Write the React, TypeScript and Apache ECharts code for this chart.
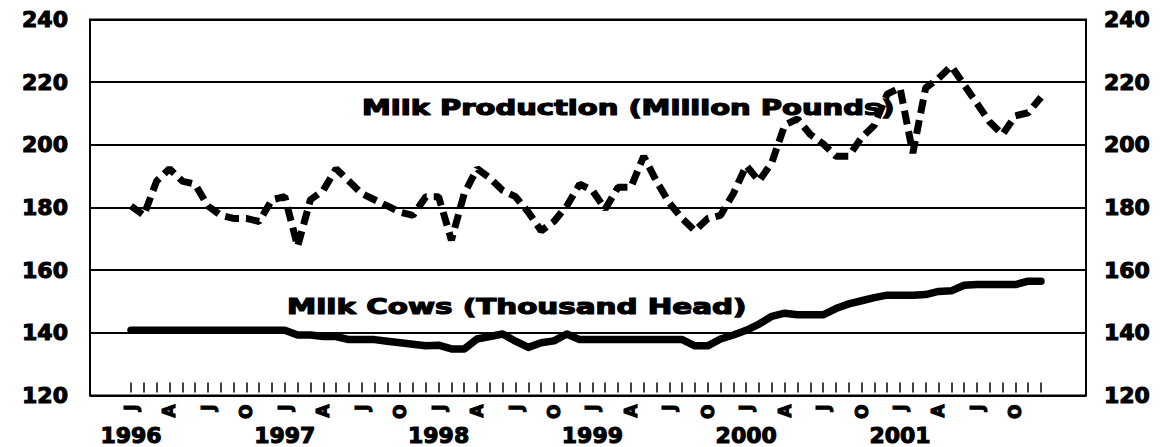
import React, { useEffect, useRef } from "react";
import * as echarts from "echarts";

const years = ["1996", "1997", "1998", "1999", "2000", "2001"];
const monthLetters = ["J", "F", "M", "A", "M", "J", "J", "A", "S", "O", "N", "D"];
const categories = years.flatMap((y) => monthLetters.map((_, k) => `${y}-${k + 1}`));

const production1996 = [180, 177, 188, 192, 188, 187, 180, 177, 176, 176, 175, 182];
const production1997 = [183, 167, 182, 185, 192, 188, 184, 182, 180, 178, 177, 183];
const production1998 = [183, 169, 184, 192, 189, 185, 183, 178, 172, 175, 180, 187];
const production1999 = [185, 179, 186, 186, 196, 188, 181, 176, 172, 176, 177, 184];
const production2000 = [193, 188, 194, 206, 208, 203, 200, 196, 196, 202, 206, 216];
const production2001 = [218, 197, 218, 221, 225, 219, 213, 207, 203, 209, 210, 215];

const cows1996 = [140, 140, 140, 140, 140, 140, 140, 140, 140, 140, 140, 140];
const cows1997 = [140, 138.5, 138.5, 138, 138, 137, 137, 137, 136.5, 136, 135.5, 135];
const cows1998 = [135.2, 134, 134, 137.2, 138, 138.8, 136.5, 134.5, 136, 136.6, 138.8, 137];
const cows1999 = [137, 137, 137, 137, 137, 137, 137, 137, 135, 135, 137.2, 138.5];
const cows2000 = [140, 142, 144.5, 145.5, 145, 145, 145, 147, 148.5, 149.5, 150.5, 151.3];
const cows2001 = [151.3, 151.3, 151.5, 152.5, 152.7, 154.5, 154.7, 154.7, 154.7, 154.7, 155.8, 155.8];

const yTicks = [120, 140, 160, 180, 200, 220, 240];

const production = [
  ...production1996, ...production1997, ...production1998,
  ...production1999, ...production2000, ...production2001,
];
const cows = [...cows1996, ...cows1997, ...cows1998, ...cows1999, ...cows2000, ...cows2001];

const FONT = "DejaVu Sans";

export default function App() {
  const ref = useRef<HTMLDivElement>(null);
  useEffect(() => {
    if (!ref.current) return;
    const chart = echarts.init(ref.current, null, { renderer: "svg" });
    const labelStyle = {
      color: "#000",
      fontFamily: FONT,
      fontWeight: "bold" as const,
      textBorderColor: "#000",
      textBorderWidth: 1.1,
    };
    const yAxisCommon = {
      gridIndex: 1,
      type: "value" as const,
      min: yTicks[0],
      max: yTicks[yTicks.length - 1],
      interval: 20,
      axisLine: { show: false },
      axisTick: { show: true, inside: true, length: 17, lineStyle: { color: "#000", width: 2 } },
    };
    chart.setOption({
      animation: false,
      backgroundColor: "#fff",
      grid: [
        { left: 131, right: 135, top: 19.5, height: 376 },
        {
          left: 90,
          right: 90,
          top: 19.5,
          height: 376,
          show: true,
          borderColor: "#000",
          borderWidth: 2,
          backgroundColor: "transparent",
        },
      ],
      xAxis: [
        {
          gridIndex: 0,
          type: "category",
          data: categories,
          boundaryGap: false,
          axisLine: { show: false },
          axisTick: { show: true, inside: true, length: 10, interval: 0, lineStyle: { color: "#000", width: 1.5 } },
          axisLabel: {
            ...labelStyle,
            interval: (i: number) => i % 3 === 0,
            formatter: (_v: string, i: number) => monthLetters[i % 12],
            rotate: 90,
            margin: 12,
            fontSize: 17,
          },
          splitLine: { show: false },
        },
        {
          gridIndex: 0,
          type: "category",
          data: categories,
          boundaryGap: false,
          position: "bottom",
          axisLine: { show: false },
          axisTick: { show: false },
          axisLabel: {
            ...labelStyle,
            interval: (i: number) => i % 12 === 0,
            formatter: (_v: string, i: number) => years[Math.floor(i / 12)],
            margin: 32,
            fontSize: 22,
          },
          splitLine: { show: false },
        },
        { gridIndex: 1, type: "value", show: false, min: 0, max: 1 },
      ],
      yAxis: [
        {
          ...yAxisCommon,
          position: "left",
          splitLine: { show: true, lineStyle: { color: "#000", width: 2 } },
          axisLabel: { ...labelStyle, margin: 22, fontSize: 22 },
        },
        {
          ...yAxisCommon,
          position: "right",
          splitLine: { show: false },
          axisLabel: { ...labelStyle, margin: 18, fontSize: 22 },
        },
        { gridIndex: 0, type: "value", min: 120, max: 240, show: false },
      ],
      series: [
        {
          name: "Milk Production (Million Pounds)",
          type: "line",
          xAxisIndex: 0,
          yAxisIndex: 2,
          data: production,
          symbol: "none",
          lineStyle: { color: "#000", width: 7, type: [14, 7], cap: "butt" },
        },
        {
          name: "Milk Cows (Thousand Head)",
          type: "line",
          xAxisIndex: 0,
          yAxisIndex: 2,
          data: cows,
          symbol: "none",
          lineStyle: { color: "#000", width: 7.5, cap: "round", join: "round" },
        },
      ],
      graphic: [
        {
          type: "text",
          x: 362,
          y: 108,
          scaleX: 1.38,
          style: {
            text: "Milk Production (Million Pounds)",
            fontSize: 21,
            fontWeight: "bold",
            fontFamily: FONT,
            fill: "#000",
            stroke: "#000",
            lineWidth: 1.2,
            textAlign: "left",
            textVerticalAlign: "middle",
          },
        },
        {
          type: "text",
          x: 287,
          y: 307,
          scaleX: 1.4,
          style: {
            text: "Milk Cows (Thousand Head)",
            fontSize: 21,
            fontWeight: "bold",
            fontFamily: FONT,
            fill: "#000",
            stroke: "#000",
            lineWidth: 1.2,
            textAlign: "left",
            textVerticalAlign: "middle",
          },
        },
      ],
    });
    return () => chart.dispose();
  }, []);
  return (
    <div
      ref={ref}
      style={{ position: "fixed", left: 0, top: 0, width: 1176, height: 447, background: "#fff" }}
    />
  );
}
